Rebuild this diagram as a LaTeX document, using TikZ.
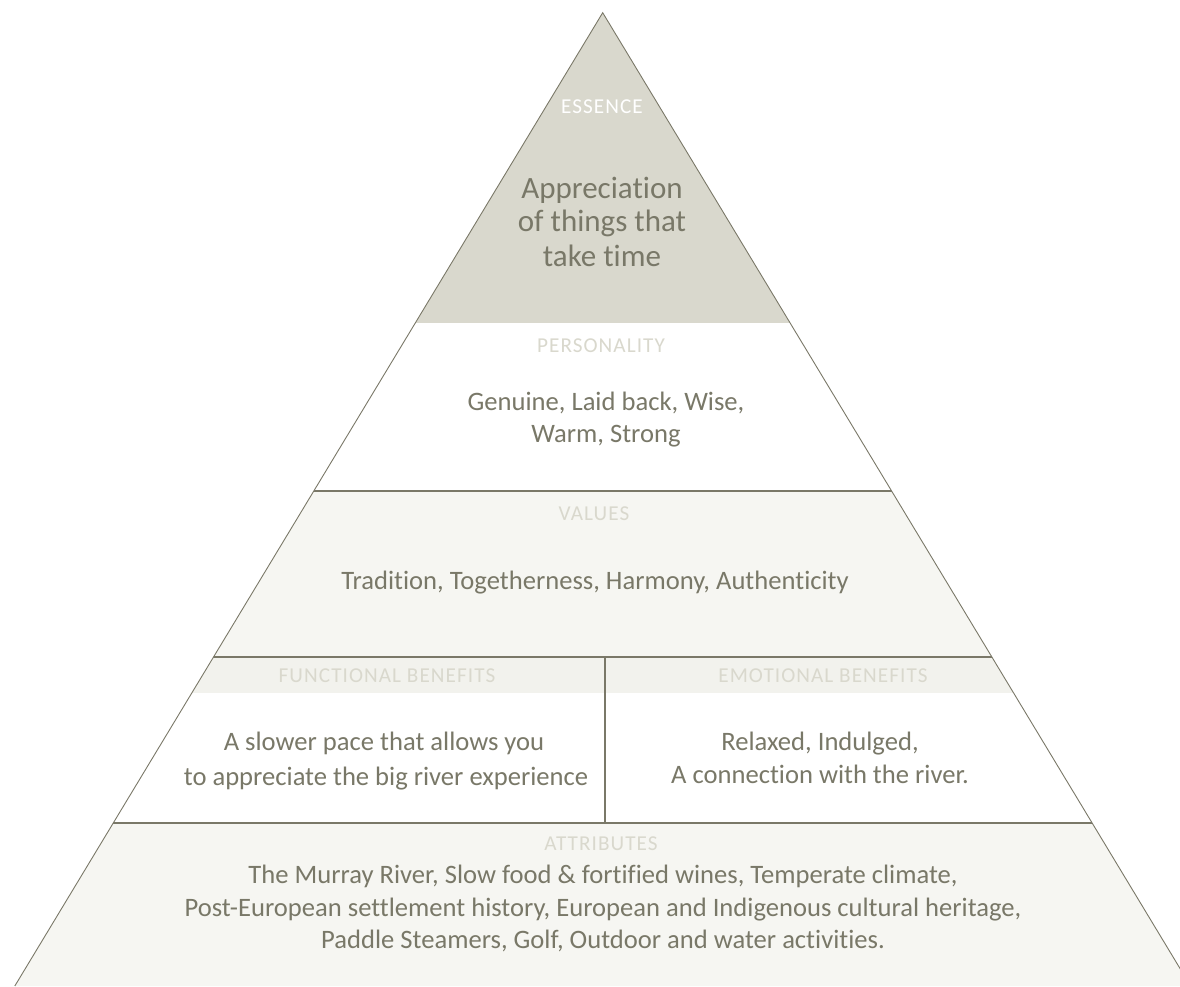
\documentclass[tikz,border=0pt]{standalone}
\usepackage{fontspec}
\setmainfont[Ligatures=NoCommon]{Carlito}
\newfontfamily\labelfont[LetterSpace=5,Ligatures=NoCommon]{Carlito}
\definecolor{txt}{RGB}{121,120,104}
\definecolor{edge}{RGB}{122,120,104}
\definecolor{lbl}{RGB}{217,216,205}
\definecolor{essfill}{RGB}{217,216,205}
\definecolor{valfill}{RGB}{246,246,242}
\definecolor{bandfill}{RGB}{242,242,237}
\definecolor{attfill}{RGB}{246,246,242}
\begin{document}
\begin{tikzpicture}[x=1pt,y=-1pt,
  lab/.style={anchor=base,inner sep=0pt,text=lbl,font={\labelfont\fontsize{21.2}{24}\selectfont}},
  ess/.style={anchor=base,inner sep=0pt,text=txt,font={\fontsize{31}{34}\selectfont}},
  body/.style={anchor=base,inner sep=0pt,text=txt,font={\fontsize{26.6}{33}\selectfont}},
  sep/.style={draw=edge,line width=1.9pt},
  side/.style={draw=edge,line width=0.9pt}]
\useasboundingbox (0,0) rectangle (1180,986);
\clip (0,0) rectangle (1180,986);
\coordinate (apex) at (602.7,12.7);
\coordinate (bl) at (14.8,986);
\coordinate (br) at (1190.6,986);
\begin{scope}
  \clip (apex) -- (bl) -- (br) -- cycle;
  \fill[essfill] (0,0) rectangle (1200,323);
  \fill[white] (0,323) rectangle (1200,490.7);
  \fill[valfill] (0,490.7) rectangle (1200,656.7);
  \fill[bandfill] (0,656.7) rectangle (1200,693.3);
  \fill[white] (0,693.3) rectangle (1200,822.7);
  \fill[attfill] (0,822.7) rectangle (1200,990);
  \path[sep] (0,490.7) -- (1200,490.7);
  \path[sep] (0,656.7) -- (1200,656.7);
  \path[sep] (0,822.7) -- (1200,822.7);
  \path[sep] (605,656.7) -- (605,822.7);
\end{scope}
\path[side] (bl) -- (apex) -- (br);
% Essence
\node[lab,text=white] (essl) at (602,113.3) {ESSENCE};
\node[ess] (ess1) at (602,198.3) {Appreciation};
\node[ess] (ess2) at (602,231.7) {of things that};
\node[ess] (ess3) at (602,266) {take time};
% Personality
\node[lab] (perl) at (601,352.7) {PERSONALITY};
\node[body] (per1) at (606,410) {Genuine, Laid back, Wise,};
\node[body] (per2) at (606,442.7) {Warm, Strong};
% Values
\node[lab] (vall) at (594,520) {VALUES};
\node[body] (val1) at (595,589) {Tradition, Togetherness, Harmony, Authenticity};
% Functional benefits
\node[lab] (funl) at (387,682.7) {FUNCTIONAL BENEFITS};
\node[body] (fun1) at (384,750) {A slower pace that allows you};
\node[body] (fun2) at (386,785) {to appreciate the big river experience};
% Emotional benefits
\node[lab] (emol) at (823,682.7) {EMOTIONAL BENEFITS};
\node[body] (emo1) at (820,750) {Relaxed, Indulged,};
\node[body] (emo2) at (820,783.3) {A connection with the river.};
% Attributes
\node[lab] (attl) at (601,850) {ATTRIBUTES};
\node[body] (att1) at (603,883) {The Murray River, Slow food \& fortified wines, Temperate climate,};
\node[body] (att2) at (603,916.7) {Post-European settlement history, European and Indigenous cultural heritage,};
\node[body] (att3) at (603,948.3) {Paddle Steamers, Golf, Outdoor and water activities.};
\end{tikzpicture}
\end{document}
